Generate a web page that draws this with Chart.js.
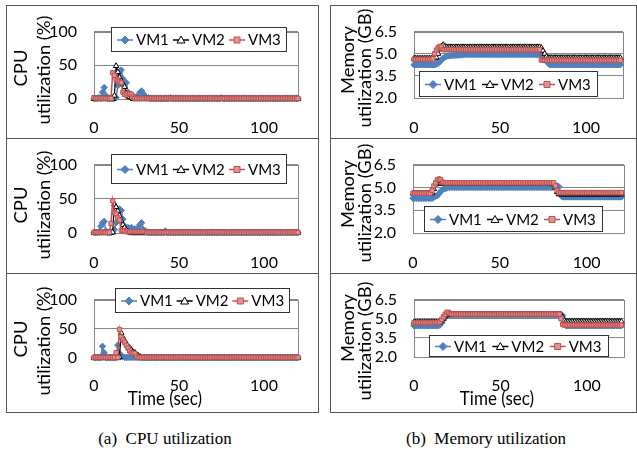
<!DOCTYPE html>
<html>
<head>
<meta charset="utf-8">
<script src="https://cdn.jsdelivr.net/npm/chart.js@4.4.1/dist/chart.umd.min.js"></script>
<style>
  html,body{margin:0;padding:0;background:#fff;}
  body{width:637px;height:454px;position:relative;overflow:hidden;font-family:Lato,sans-serif;}
  .box{position:absolute;border:1px solid #555;box-sizing:border-box;z-index:5;pointer-events:none;}
  .hl{position:absolute;height:1px;background:#555;z-index:5;}
  .yt{position:absolute;font-family:Lato,sans-serif;font-size:17px;white-space:nowrap;color:#000;transform:translate(-50%,-50%) rotate(-90deg) scaleX(1.08);line-height:1;z-index:6;}
  .xt{position:absolute;font-family:Lato,sans-serif;font-size:17px;white-space:nowrap;color:#000;transform:translate(-50%,-50%) scaleY(1.1);line-height:1;z-index:6;}
  .cap{position:absolute;font-family:"Liberation Serif",serif;font-size:17px;white-space:nowrap;color:#000;transform:translate(-50%,-50%);line-height:1;}
  canvas{position:absolute;}
</style>
</head>
<body>
<div class="box" style="left:6px;top:5px;width:313px;height:408px;"></div>
<div class="hl" style="left:6px;top:138px;width:313px;"></div>
<div class="hl" style="left:6px;top:273px;width:313px;"></div>
<div class="box" style="left:330px;top:5px;width:307px;height:408px;"></div>
<div class="hl" style="left:330px;top:138px;width:307px;"></div>
<div class="hl" style="left:330px;top:273px;width:307px;"></div>

<div class="yt" style="left:20px;top:68px;">CPU</div>
<div class="yt" style="left:43px;top:70px;">utilization (%)</div>
<div class="yt" style="left:20px;top:205px;">CPU</div>
<div class="yt" style="left:43px;top:205px;">utilization (%)</div>
<div class="yt" style="left:20px;top:339px;">CPU</div>
<div class="yt" style="left:43px;top:341px;">utilization (%)</div>

<div class="yt" style="left:347px;top:60px;">Memory</div>
<div class="yt" style="left:364px;top:68px;">utilization (GB)</div>
<div class="yt" style="left:347px;top:194px;">Memory</div>
<div class="yt" style="left:364px;top:203px;">utilization (GB)</div>
<div class="yt" style="left:347px;top:328px;">Memory</div>
<div class="yt" style="left:364px;top:341px;">utilization (GB)</div>

<div class="xt" style="left:165px;top:398px;">Time (sec)</div>
<div class="xt" style="left:497px;top:398px;">Time (sec)</div>

<div class="cap" style="left:165px;top:438px;">(a)&nbsp; CPU utilization</div>
<div class="cap" style="left:486px;top:438px;">(b)&nbsp; Memory utilization</div>

<script>
// ---------------- DATA ----------------
const seriesNames = ["VM1", "VM2", "VM3"];
const seconds = [
0,1,2,3,4,5,6,7,8,9,
10,11,12,13,14,15,16,17,18,19,
20,21,22,23,24,25,26,27,28,29,
30,31,32,33,34,35,36,37,38,39,
40,41,42,43,44,45,46,47,48,49,
50,51,52,53,54,55,56,57,58,59,
60,61,62,63,64,65,66,67,68,69,
70,71,72,73,74,75,76,77,78,79,
80,81,82,83,84,85,86,87,88,89,
90,91,92,93,94,95,96,97,98,99,
100,101,102,103,104,105,106,107,108,109,
110,111,112,113,114,115,116,117,118,119,
120];
const timeTicks = [0, 50, 100];
const cpuTicks = [0, 50, 100];
const memTicks = [2.0, 3.5, 5.0, 6.5];

// CPU utilization (%), top panel
const cpuTopVM1 = [
1,1,1,2,1,10,17,5,1,1,
1,1,1,2,20,35,43,30,22,24,
10,5,3,4,3,3,5,10,12,8,
4,2,2,1,1,1,1,1,1,1,
1,1,1,1,1,2,1,1,1,1,
1,1,1,1,1,1,1,1,1,1,
1,1,1,1,1,1,1,1,1,1,
1,1,1,1,1,2,1,1,1,1,
1,1,1,1,1,1,1,1,1,1,
1,1,1,1,1,1,1,1,1,1,
1,1,1,1,1,1,1,1,1,1,
1,1,1,1,1,1,1,1,1,1,
1];
const cpuTopVM2 = [
0,0,0,0,0,0,0,0,0,0,
0,0,5,49,40,32,27,22,18,8,
4,3,2,0,0,0,0,0,0,0,
0,0,0,0,0,0,0,0,0,0,
0,0,0,0,0,0,0,0,0,0,
0,0,0,0,0,0,0,0,0,0,
0,0,0,0,0,0,0,0,0,0,
0,0,0,0,0,0,0,0,0,0,
0,0,0,0,0,0,0,0,0,0,
0,0,0,0,0,0,0,0,0,0,
0,0,0,0,0,0,0,0,0,0,
0,0,0,0,0,0,0,0,0,0,
0];
const cpuTopVM3 = [
2,1,1,1,1,1,1,1,1,1,
1,39,35,29,28,26,24,10,7,6,
8,8,7,3,1,1,1,1,1,1,
1,1,1,1,1,1,1,1,1,1,
1,1,1,1,1,1,1,1,1,1,
1,1,1,1,1,1,1,1,1,1,
1,1,1,1,1,1,1,1,1,1,
1,1,1,1,1,1,1,1,1,1,
1,1,1,1,1,1,1,1,1,1,
1,1,1,1,1,1,1,1,1,1,
1,1,1,1,1,1,1,1,1,1,
1,1,1,1,1,1,1,1,1,1,
1];

// CPU utilization (%), middle panel
const cpuMidVM1 = [
1,1,1,2,10,15,17,3,1,1,
1,2,5,15,30,35,33,20,10,6,
8,7,8,5,6,4,8,12,15,5,
3,2,1,1,1,1,1,1,1,1,
1,1,3,1,1,1,1,1,1,1,
1,1,1,1,1,1,1,1,1,1,
1,1,1,1,1,1,1,1,1,1,
1,1,1,1,1,1,1,1,1,1,
1,1,1,1,1,1,1,1,1,1,
1,1,1,1,1,1,1,1,1,1,
1,1,1,1,1,1,1,1,1,1,
1,1,1,1,1,1,1,1,1,1,
1];
const cpuMidVM2 = [
0,0,0,0,0,0,0,0,0,0,
0,1,42,38,32,25,18,12,8,4,
2,1,0,0,0,0,0,0,0,0,
0,0,0,0,0,0,0,0,0,0,
0,0,0,0,0,0,0,0,0,0,
0,0,0,0,0,0,0,0,0,0,
0,0,0,0,0,0,0,0,0,0,
0,0,0,0,0,0,0,0,0,0,
0,0,0,0,0,0,0,0,0,0,
0,0,0,0,0,0,0,0,0,0,
0,0,0,0,0,0,0,0,0,0,
0,0,0,0,0,0,0,0,0,0,
0];
const cpuMidVM3 = [
1,1,1,1,1,1,1,1,1,1,
14,47,30,28,22,19,4,3,3,2,
2,2,2,2,2,2,2,2,2,2,
2,1,1,1,1,1,1,1,1,1,
1,1,1,1,1,1,1,1,1,1,
1,1,1,1,1,1,1,1,1,1,
1,1,1,1,1,1,1,1,1,1,
1,1,1,1,1,1,1,1,1,1,
1,1,1,1,1,1,1,1,1,1,
1,1,1,1,1,1,1,1,1,1,
1,1,1,1,1,1,1,1,1,1,
1,1,1,1,1,1,1,1,1,1,
1];

// CPU utilization (%), bottom panel
const cpuBotVM1 = [
1,1,1,1,1,20,9,1,1,1,
1,1,1,1,22,8,3,2,1,1,
1,1,1,1,1,1,1,1,1,1,
1,1,1,1,1,1,1,1,1,1,
1,1,1,1,1,1,1,1,1,1,
1,1,1,1,1,1,1,1,1,1,
1,1,1,1,1,1,1,1,1,1,
1,1,1,1,1,1,1,1,1,1,
1,1,1,1,1,1,1,1,1,1,
1,1,1,1,1,1,1,1,1,1,
1,1,1,1,1,1,1,1,1,1,
1,1,1,1,1,1,1,1,1,1,
1];
const cpuBotVM2 = [
0,0,0,0,0,0,0,0,0,0,
0,0,0,0,0,2,43,35,30,25,
20,17,14,10,9,6,4,2,0,0,
0,0,0,0,0,0,0,0,0,0,
0,0,0,0,0,0,0,0,0,0,
0,0,0,0,0,0,0,0,0,0,
0,0,0,0,0,0,0,0,0,0,
0,0,0,0,0,0,0,0,0,0,
0,0,0,0,0,0,0,0,0,0,
0,0,0,0,0,0,0,0,0,0,
0,0,0,0,0,0,0,0,0,0,
0,0,0,0,0,0,0,0,0,0,
0];
const cpuBotVM3 = [
1,1,1,1,1,1,1,1,1,1,
1,1,1,9,1,49,36,31,27,22,
17,12,9,8,8,3,1,1,1,1,
1,1,1,1,1,1,1,1,1,1,
1,1,1,1,1,1,1,1,1,1,
1,1,1,1,1,1,1,1,1,1,
1,1,1,1,1,1,1,1,1,1,
1,1,1,1,1,1,1,1,1,1,
1,1,1,1,1,1,1,1,1,1,
1,1,1,1,1,1,1,1,1,1,
1,1,1,1,1,1,1,1,1,1,
1,1,1,1,1,1,1,1,1,1,
1];

// Memory utilization (GB), top panel
const memTopVM1 = [
4.25,4.25,4.25,4.25,4.25,4.25,4.25,4.25,4.25,4.25,
4.25,4.25,4.25,4.3,4.35,4.45,4.6,4.7,4.78,4.82,
4.85,4.87,4.88,4.89,4.9,4.9,4.91,4.92,4.93,4.94,
4.95,4.95,4.95,4.95,4.95,4.95,4.95,4.95,4.95,4.95,
4.95,4.95,4.95,4.95,4.95,4.95,4.95,4.95,4.95,4.95,
4.95,4.95,4.95,4.95,4.95,4.95,4.95,4.95,4.95,4.95,
4.95,4.95,4.95,4.95,4.95,4.95,4.95,4.95,4.95,4.95,
4.95,4.95,4.95,4.95,4.95,4.95,4.9,4.6,4.35,4.25,
4.25,4.25,4.25,4.25,4.25,4.25,4.25,4.25,4.25,4.25,
4.25,4.25,4.25,4.25,4.25,4.25,4.25,4.25,4.25,4.25,
4.25,4.25,4.25,4.25,4.25,4.25,4.25,4.25,4.25,4.25,
4.25,4.25,4.25,4.25,4.25,4.25,4.25,4.25,4.25,4.25,
4.25];
const memTopVM2 = [
4.68,4.68,4.68,4.68,4.68,4.68,4.68,4.68,4.68,4.68,
4.68,4.68,4.7,4.75,5.0,5.3,5.5,5.6,5.5,5.45,
5.45,5.45,5.45,5.45,5.45,5.45,5.45,5.45,5.45,5.45,
5.45,5.45,5.45,5.45,5.45,5.45,5.45,5.45,5.45,5.45,
5.45,5.45,5.45,5.45,5.45,5.45,5.45,5.45,5.45,5.45,
5.45,5.45,5.45,5.45,5.45,5.45,5.45,5.45,5.45,5.45,
5.45,5.45,5.45,5.45,5.45,5.45,5.45,5.45,5.45,5.45,
5.45,5.45,5.45,5.45,5.4,5.2,5.0,4.8,4.72,4.72,
4.72,4.72,4.72,4.72,4.72,4.72,4.72,4.72,4.72,4.72,
4.72,4.72,4.72,4.72,4.72,4.72,4.72,4.72,4.72,4.72,
4.72,4.72,4.72,4.72,4.72,4.72,4.72,4.72,4.72,4.72,
4.72,4.72,4.72,4.72,4.72,4.72,4.72,4.72,4.72,4.72,
4.72];
const memTopVM3 = [
4.62,4.62,4.62,4.62,4.62,4.62,4.62,4.62,4.62,4.62,
4.62,4.65,5.0,5.25,5.4,5.5,5.45,5.28,5.28,5.28,
5.28,5.28,5.28,5.28,5.28,5.28,5.28,5.28,5.28,5.28,
5.28,5.28,5.28,5.28,5.28,5.28,5.28,5.28,5.28,5.28,
5.28,5.28,5.28,5.28,5.28,5.28,5.28,5.28,5.28,5.28,
5.28,5.28,5.28,5.28,5.28,5.28,5.28,5.28,5.28,5.28,
5.28,5.28,5.28,5.28,5.28,5.28,5.28,5.28,5.28,5.28,
5.28,5.28,5.28,5.28,4.58,4.55,4.55,4.55,4.55,4.55,
4.55,4.55,4.55,4.55,4.55,4.55,4.55,4.55,4.55,4.55,
4.55,4.55,4.55,4.55,4.55,4.55,4.55,4.55,4.55,4.55,
4.55,4.55,4.55,4.55,4.55,4.55,4.55,4.55,4.55,4.55,
4.55,4.55,4.55,4.55,4.55,4.55,4.55,4.55,4.55,4.55,
4.55];

// Memory utilization (GB), middle panel
const memMidVM1 = [
4.28,4.28,4.28,4.28,4.28,4.28,4.28,4.28,4.28,4.28,
4.28,4.28,4.35,4.42,4.45,4.6,4.75,4.85,4.9,4.93,
5.0,5.0,5.0,5.0,5.0,5.0,5.0,5.0,5.0,5.0,
5.0,5.0,5.0,5.0,5.0,5.0,5.0,5.0,5.0,5.0,
5.0,5.0,5.0,5.0,5.0,5.0,5.0,5.0,5.0,5.0,
5.0,5.0,5.0,5.0,5.0,5.0,5.0,5.0,5.0,5.0,
5.0,5.0,5.0,5.0,5.0,5.0,5.0,5.0,5.0,5.0,
5.0,5.0,5.0,5.0,5.0,5.0,5.0,5.0,5.0,5.0,
5.0,5.0,5.0,5.1,5.05,4.6,4.37,4.37,4.37,4.37,
4.37,4.37,4.37,4.37,4.37,4.37,4.37,4.37,4.37,4.37,
4.37,4.37,4.37,4.37,4.37,4.37,4.37,4.37,4.37,4.37,
4.37,4.37,4.37,4.37,4.37,4.37,4.37,4.37,4.37,4.37,
4.37];
const memMidVM2 = [
4.6,4.6,4.6,4.6,4.6,4.6,4.6,4.6,4.6,4.6,
4.6,4.65,4.9,5.2,5.4,5.5,5.25,5.25,5.25,5.25,
5.25,5.25,5.25,5.25,5.25,5.25,5.25,5.25,5.25,5.25,
5.25,5.25,5.25,5.25,5.25,5.25,5.25,5.25,5.25,5.25,
5.25,5.25,5.25,5.25,5.25,5.25,5.25,5.25,5.25,5.25,
5.25,5.25,5.25,5.25,5.25,5.25,5.25,5.25,5.25,5.25,
5.25,5.25,5.25,5.25,5.25,5.25,5.25,5.25,5.25,5.25,
5.25,5.25,5.25,5.25,5.25,5.25,5.25,5.25,5.25,5.25,
5.25,5.2,5.0,4.7,4.55,4.55,4.55,4.55,4.55,4.55,
4.55,4.55,4.55,4.55,4.55,4.55,4.55,4.55,4.55,4.55,
4.55,4.55,4.55,4.55,4.55,4.55,4.55,4.55,4.55,4.55,
4.55,4.55,4.55,4.55,4.55,4.55,4.55,4.55,4.55,4.55,
4.55];
const memMidVM3 = [
4.62,4.62,4.62,4.62,4.62,4.62,4.62,4.62,4.62,4.62,
4.62,4.8,5.1,5.3,5.5,5.55,5.5,5.35,5.3,5.3,
5.3,5.3,5.3,5.3,5.3,5.3,5.3,5.3,5.3,5.3,
5.3,5.3,5.3,5.3,5.3,5.3,5.3,5.3,5.3,5.3,
5.3,5.3,5.3,5.3,5.3,5.3,5.3,5.3,5.3,5.3,
5.3,5.3,5.3,5.3,5.3,5.3,5.3,5.3,5.3,5.3,
5.3,5.3,5.3,5.3,5.3,5.3,5.3,5.3,5.3,5.3,
5.3,5.3,5.3,5.3,5.3,5.3,5.3,5.3,5.3,5.3,
5.3,5.3,5.1,4.8,4.66,4.66,4.66,4.66,4.66,4.66,
4.66,4.66,4.66,4.66,4.66,4.66,4.66,4.66,4.66,4.66,
4.66,4.66,4.66,4.66,4.66,4.66,4.66,4.66,4.66,4.66,
4.66,4.66,4.66,4.66,4.66,4.66,4.66,4.66,4.66,4.66,
4.66];

// Memory utilization (GB), bottom panel
const memBotVM1 = [
4.45,4.45,4.45,4.45,4.45,4.45,4.45,4.45,4.45,4.45,
4.45,4.45,4.45,4.45,4.45,4.5,4.7,4.95,5.15,5.3,
5.3,5.3,5.3,5.3,5.3,5.3,5.3,5.3,5.3,5.3,
5.3,5.3,5.3,5.3,5.3,5.3,5.3,5.3,5.3,5.3,
5.3,5.3,5.3,5.3,5.3,5.3,5.3,5.3,5.3,5.3,
5.3,5.3,5.3,5.3,5.3,5.3,5.3,5.3,5.3,5.3,
5.3,5.3,5.3,5.3,5.3,5.3,5.3,5.3,5.3,5.3,
5.3,5.3,5.3,5.3,5.3,5.3,5.3,5.3,5.3,5.3,
5.3,5.3,5.3,5.3,5.3,5.3,5.25,4.9,4.45,4.45,
4.45,4.45,4.45,4.45,4.45,4.45,4.45,4.45,4.45,4.45,
4.45,4.45,4.45,4.45,4.45,4.45,4.45,4.45,4.45,4.45,
4.45,4.45,4.45,4.45,4.45,4.45,4.45,4.45,4.45,4.45,
4.45];
const memBotVM2 = [
4.72,4.72,4.72,4.72,4.72,4.72,4.72,4.72,4.72,4.72,
4.72,4.72,4.72,4.72,4.72,4.72,4.8,5.0,5.2,5.35,
5.4,5.33,5.33,5.33,5.33,5.33,5.33,5.33,5.33,5.33,
5.33,5.33,5.33,5.33,5.33,5.33,5.33,5.33,5.33,5.33,
5.33,5.33,5.33,5.33,5.33,5.33,5.33,5.33,5.33,5.33,
5.33,5.33,5.33,5.33,5.33,5.33,5.33,5.33,5.33,5.33,
5.33,5.33,5.33,5.33,5.33,5.33,5.33,5.33,5.33,5.33,
5.33,5.33,5.33,5.33,5.33,5.33,5.33,5.33,5.33,5.33,
5.33,5.33,5.33,5.33,5.33,5.33,5.1,4.85,4.78,4.78,
4.78,4.78,4.78,4.78,4.78,4.78,4.78,4.78,4.78,4.78,
4.78,4.78,4.78,4.78,4.78,4.78,4.78,4.78,4.78,4.78,
4.78,4.78,4.78,4.78,4.78,4.78,4.78,4.78,4.78,4.78,
4.78];
const memBotVM3 = [
4.7,4.7,4.7,4.7,4.7,4.7,4.7,4.7,4.7,4.7,
4.7,4.7,4.7,4.7,4.7,4.75,4.95,5.15,5.35,5.5,
5.5,5.4,5.36,5.36,5.36,5.36,5.36,5.36,5.36,5.36,
5.36,5.36,5.36,5.36,5.36,5.36,5.36,5.36,5.36,5.36,
5.36,5.36,5.36,5.36,5.36,5.36,5.36,5.36,5.36,5.36,
5.36,5.36,5.36,5.36,5.36,5.36,5.36,5.36,5.36,5.36,
5.36,5.36,5.36,5.36,5.36,5.36,5.36,5.36,5.36,5.36,
5.36,5.36,5.36,5.36,5.36,5.36,5.36,5.36,5.36,5.36,
5.36,5.36,5.36,5.36,5.36,5.0,4.55,4.5,4.5,4.5,
4.5,4.5,4.5,4.5,4.5,4.5,4.5,4.5,4.5,4.5,
4.5,4.5,4.5,4.5,4.5,4.5,4.5,4.5,4.5,4.5,
4.5,4.5,4.5,4.5,4.5,4.5,4.5,4.5,4.5,4.5,
4.5];

// ---------------- DRAWING ----------------
Chart.defaults.font.family = "Lato, sans-serif";
Chart.defaults.color = "#000";

const STYLE = [
  {color:"#4F81BD", fill:"#4F81BD", point:"rectRot", radius:3.2, lw:1.5},
  {color:"#000000", fill:"#ffffff", point:"triangle", radius:3.2, lw:1.2},
  {color:"#C0504D", fill:"#DA9694", point:"rect", radius:3.0, lw:1.5}
];

function drawMarker(ctx, kind, x, y, st){
  ctx.save();
  ctx.lineWidth = 1;
  ctx.strokeStyle = st.color;
  ctx.fillStyle = st.fill;
  ctx.beginPath();
  if (kind === "rectRot"){
    ctx.moveTo(x, y-4); ctx.lineTo(x+4, y); ctx.lineTo(x, y+4); ctx.lineTo(x-4, y); ctx.closePath();
  } else if (kind === "triangle"){
    ctx.moveTo(x, y-4); ctx.lineTo(x+4, y+3); ctx.lineTo(x-4, y+3); ctx.closePath();
  } else {
    ctx.rect(x-3, y-3, 6, 6);
  }
  ctx.fill(); ctx.stroke();
  ctx.restore();
}

const framePlugin = {
  id: "frameLegend",
  beforeDatasetsDraw(chart){
    const a = chart.chartArea, ctx = chart.ctx;
    ctx.save();
    ctx.strokeStyle = "#868686";
    ctx.lineWidth = 1;
    ctx.strokeRect(Math.round(a.left)+0.5, Math.round(a.top)+0.5, Math.round(a.right-a.left), Math.round(a.bottom-a.top));
    ctx.restore();
  },
  afterDatasetsDraw(chart, args, opts){
    const b = opts.box; if (!b) return;
    const ctx = chart.ctx;
    ctx.save();
    ctx.fillStyle = "#fff";
    ctx.fillRect(b.x, b.y, b.w, b.h);
    ctx.strokeStyle = "#333";
    ctx.lineWidth = 1;
    ctx.strokeRect(b.x+0.5, b.y+0.5, b.w-1, b.h-1);
    const pitch = (b.w - 8) / 3;
    const cy = b.y + b.h/2;
    ctx.font = "15px Lato, sans-serif";
    ctx.textBaseline = "middle";
    ctx.textAlign = "left";
    seriesNames.forEach((name, i) => {
      const st = STYLE[i];
      const x0 = b.x + 6 + i*pitch;
      ctx.strokeStyle = st.color;
      ctx.lineWidth = 1.5;
      ctx.beginPath(); ctx.moveTo(x0, cy+0.5); ctx.lineTo(x0+16, cy+0.5); ctx.stroke();
      drawMarker(ctx, st.point, x0+8, cy+0.5, st);
      ctx.fillStyle = "#000";
      ctx.fillText(name, x0+19, cy+1);
    });
    ctx.restore();
  }
};

function makePanel(p){
  const cv = document.createElement("canvas");
  cv.width = p.canvas.w; cv.height = p.canvas.h;
  cv.style.left = p.canvas.x + "px"; cv.style.top = p.canvas.y + "px";
  document.body.appendChild(cv);
  const yW = p.area.l - p.canvas.x;
  const padTop = p.area.t - p.canvas.y;
  const padRight = p.canvas.x + p.canvas.w - p.area.r;
  const xH = p.xH;
  const padBottom = p.canvas.y + p.canvas.h - p.area.b - xH;
  const datasets = p.series.map((arr, i) => ({
    label: seriesNames[i],
    data: arr,
    borderColor: STYLE[i].color,
    backgroundColor: STYLE[i].fill,
    borderWidth: STYLE[i].lw,
    pointStyle: STYLE[i].point,
    pointRadius: STYLE[i].radius,
    pointBorderWidth: 1,
    pointBorderColor: STYLE[i].color,
    pointBackgroundColor: STYLE[i].fill,
    tension: 0,
    fill: false,
    clip: false,
    order: 2 - i
  }));
  const lb = {x: p.legend.x - p.canvas.x, y: p.legend.y - p.canvas.y, w: p.legend.w, h: p.legend.h};
  new Chart(cv, {
    type: "line",
    data: { labels: seconds, datasets },
    options: {
      responsive: false, animation: false, devicePixelRatio: 1,
      layout: { autoPadding: false, padding: {left: 0, top: padTop, right: padRight, bottom: padBottom} },
      plugins: { legend: {display: false}, tooltip: {enabled: false}, frameLegend: {box: lb} },
      scales: {
        x: {
          type: "linear", min: 0, max: p.xmax,
          afterBuildTicks: s => { s.ticks = timeTicks.map(v => ({value: v})); },
          afterFit: s => { s.height = xH; },
          grid: {display: false, drawTicks: false},
          border: {display: false},
          ticks: {padding: p.xPad, font: {size: 16}, color: "#000", maxRotation: 0, autoSkip: false}
        },
        y: {
          type: "linear", min: p.ymin, max: p.ymax,
          afterBuildTicks: s => { s.ticks = p.yTicks.map(v => ({value: v})); },
          afterFit: s => { s.width = yW; },
          grid: {color: "#868686", drawTicks: false, lineWidth: 1},
          border: {display: false},
          ticks: {padding: 17, font: {size: 16}, color: "#000", autoSkip: false,
                  callback: v => p.fmt(v)}
        }
      }
    },
    plugins: [framePlugin]
  });
}

const fmtInt = v => String(v);
const fmt1 = v => Number(v).toFixed(1);

const panels = [
  {canvas:{x:6,y:5,w:312,h:133}, area:{l:94,t:20,r:298,b:99}, xH:39, xPad:19, xmax:120,
   ymin:0, ymax:100, yTicks:cpuTicks, fmt:fmtInt, legend:{x:111,y:27,w:176,h:25},
   series:[cpuTopVM1, cpuTopVM2, cpuTopVM3]},
  {canvas:{x:6,y:138,w:312,h:135}, area:{l:94,t:150,r:298,b:233}, xH:40, xPad:20, xmax:120,
   ymin:0, ymax:100, yTicks:cpuTicks, fmt:fmtInt, legend:{x:111,y:154,w:176,h:30},
   series:[cpuMidVM1, cpuMidVM2, cpuMidVM3]},
  {canvas:{x:6,y:273,w:312,h:139}, area:{l:94,t:285,r:298,b:358}, xH:40, xPad:18, xmax:120,
   ymin:0, ymax:100, yTicks:cpuTicks, fmt:fmtInt, legend:{x:115,y:288,w:175,h:25},
   series:[cpuBotVM1, cpuBotVM2, cpuBotVM3]},
  {canvas:{x:330,y:5,w:306,h:133}, area:{l:414,t:20,r:623,b:98}, xH:40, xPad:20, xmax:121.5,
   ymin:2, ymax:6.5, yTicks:memTicks, fmt:fmt1, legend:{x:419,y:71,w:179,h:26},
   series:[memTopVM1, memTopVM2, memTopVM3]},
  {canvas:{x:330,y:138,w:306,h:135}, area:{l:413,t:150,r:624,b:233}, xH:40, xPad:20, xmax:121.5,
   ymin:2, ymax:6.5, yTicks:memTicks, fmt:fmt1, legend:{x:424,y:206,w:179,h:26},
   series:[memMidVM1, memMidVM2, memMidVM3]},
  {canvas:{x:330,y:273,w:306,h:139}, area:{l:414,t:285,r:624,b:357}, xH:40, xPad:19, xmax:121.5,
   ymin:2, ymax:6.5, yTicks:memTicks, fmt:fmt1, legend:{x:429,y:335,w:180,h:22},
   series:[memBotVM1, memBotVM2, memBotVM3]}
];
panels.forEach(makePanel);
</script>
</body>
</html>
